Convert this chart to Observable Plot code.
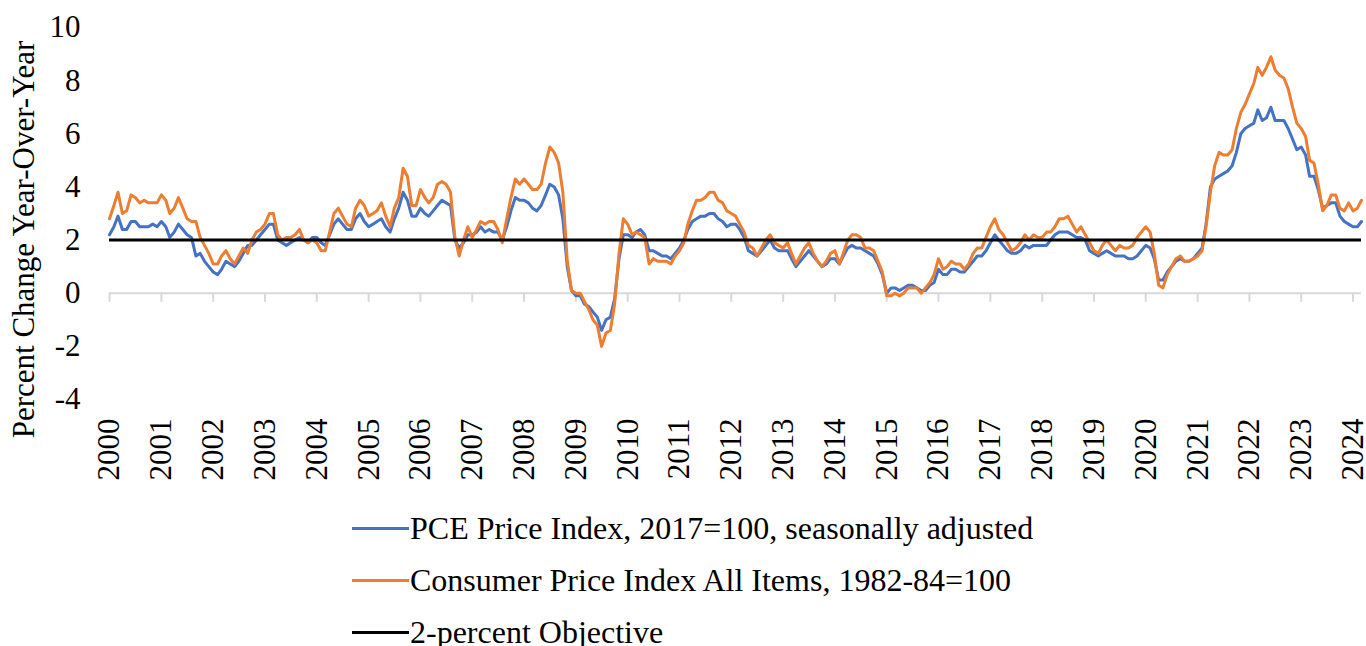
<!DOCTYPE html>
<html>
<head>
<meta charset="utf-8">
<script src="https://cdn.jsdelivr.net/npm/d3@7"></script>
<script src="https://cdn.jsdelivr.net/npm/@observablehq/plot@0.6"></script>
<style>
  body { margin: 0; background: #fff; font-family: "Liberation Serif", "Times New Roman", serif; }
  #chart { width: 1366px; }
  .legend { padding-left: 352px; margin-top: 12px; }
  .row { display: flex; align-items: center; height: 52px; font-size: 32px; color: #000; white-space: nowrap; }
  .swatch { width: 57px; height: 3px; margin-right: 1px; }
</style>
</head>
<body>
<div id="chart"></div>
<script>
// Monthly data, January 2000 through March 2024 (year-over-year % change)
const startYear = 2000;
const yearLabels = [2000, 2001, 2002, 2003, 2004, 2005, 2006, 2007, 2008, 2009, 2010, 2011,
                    2012, 2013, 2014, 2015, 2016, 2017, 2018, 2019, 2020, 2021, 2022, 2023, 2024];
const yTicks = [-4, -2, 0, 2, 4, 6, 8, 10];
const objective = 2;

const seriesNames = [
  "PCE Price Index, 2017=100, seasonally adjusted",
  "Consumer Price Index All Items, 1982-84=100",
  "2-percent Objective"
];
const seriesColors = ["#4472C4", "#ED7D31", "#000000"];

const pce = [
  2.2, 2.5, 2.9, 2.4, 2.4, 2.7, 2.7, 2.5, 2.5, 2.5, 2.6, 2.5,   // 2000
  2.7, 2.5, 2.1, 2.3, 2.6, 2.4, 2.2, 2.1, 1.4, 1.5, 1.2, 1.0,   // 2001
  0.8, 0.7, 0.9, 1.2, 1.1, 1.0, 1.2, 1.5, 1.8, 1.8, 2.0, 2.2,   // 2002
  2.4, 2.6, 2.6, 2.0, 1.9, 1.8, 1.9, 2.0, 2.1, 2.0, 1.9, 2.1,   // 2003
  2.1, 1.9, 1.8, 2.2, 2.6, 2.8, 2.6, 2.4, 2.4, 2.8, 3.0, 2.7,   // 2004
  2.5, 2.6, 2.7, 2.8, 2.5, 2.3, 2.8, 3.2, 3.8, 3.5, 2.9, 2.9,   // 2005
  3.2, 3.0, 2.9, 3.1, 3.3, 3.5, 3.4, 3.3, 2.0, 1.7, 1.9, 2.2,   // 2006
  2.2, 2.3, 2.5, 2.3, 2.4, 2.3, 2.3, 2.0, 2.5, 3.1, 3.6, 3.5,   // 2007
  3.5, 3.4, 3.2, 3.1, 3.3, 3.7, 4.1, 4.0, 3.7, 2.8, 1.0, 0.1,   // 2008
  -0.1, -0.1, -0.4, -0.5, -0.7, -0.9, -1.4, -1.0, -0.9, -0.2, 1.3, 2.2, // 2009
  2.2, 2.1, 2.3, 2.4, 2.2, 1.6, 1.6, 1.5, 1.4, 1.4, 1.3, 1.5,   // 2010
  1.7, 2.0, 2.4, 2.7, 2.8, 2.9, 2.9, 3.0, 3.0, 2.8, 2.7, 2.5,   // 2011
  2.6, 2.6, 2.4, 2.1, 1.6, 1.5, 1.4, 1.6, 1.8, 2.0, 1.7, 1.6,   // 2012
  1.6, 1.6, 1.3, 1.0, 1.2, 1.4, 1.6, 1.4, 1.2, 1.0, 1.1, 1.3,   // 2013
  1.3, 1.1, 1.4, 1.7, 1.8, 1.7, 1.7, 1.6, 1.5, 1.4, 1.1, 0.7,   // 2014
  0.0, 0.2, 0.2, 0.1, 0.2, 0.3, 0.3, 0.2, 0.1, 0.1, 0.3, 0.4,   // 2015
  0.9, 0.7, 0.7, 0.9, 0.9, 0.8, 0.8, 1.0, 1.2, 1.4, 1.4, 1.6,   // 2016
  1.9, 2.2, 2.0, 1.8, 1.6, 1.5, 1.5, 1.6, 1.8, 1.7, 1.8, 1.8,   // 2017
  1.8, 1.8, 2.0, 2.2, 2.3, 2.3, 2.3, 2.2, 2.1, 2.1, 2.0, 1.6,   // 2018
  1.5, 1.4, 1.5, 1.6, 1.5, 1.4, 1.4, 1.4, 1.3, 1.3, 1.4, 1.6,   // 2019
  1.8, 1.7, 1.3, 0.5, 0.5, 0.8, 1.0, 1.2, 1.3, 1.2, 1.2, 1.3,   // 2020
  1.5, 1.7, 2.6, 4.0, 4.3, 4.4, 4.5, 4.6, 4.8, 5.3, 6.0, 6.2,   // 2021
  6.3, 6.4, 6.9, 6.5, 6.6, 7.0, 6.5, 6.5, 6.5, 6.2, 5.8, 5.4,   // 2022
  5.5, 5.2, 4.4, 4.4, 3.9, 3.2, 3.3, 3.4, 3.4, 2.9, 2.7, 2.6,   // 2023
  2.5, 2.5, 2.7                                                 // 2024
];

const cpi = [
  2.8, 3.3, 3.8, 3.0, 3.1, 3.7, 3.6, 3.4, 3.5, 3.4, 3.4, 3.4,   // 2000
  3.7, 3.5, 3.0, 3.2, 3.6, 3.2, 2.8, 2.7, 2.7, 2.1, 1.8, 1.5,   // 2001
  1.1, 1.1, 1.4, 1.6, 1.3, 1.1, 1.4, 1.7, 1.5, 2.0, 2.3, 2.4,   // 2002
  2.6, 3.0, 3.0, 2.2, 2.0, 2.1, 2.1, 2.2, 2.4, 2.0, 1.9, 2.0,   // 2003
  1.9, 1.6, 1.6, 2.3, 3.0, 3.2, 2.9, 2.6, 2.5, 3.2, 3.5, 3.3,   // 2004
  2.9, 3.0, 3.1, 3.4, 2.9, 2.5, 3.2, 3.6, 4.7, 4.4, 3.3, 3.3,   // 2005
  3.9, 3.6, 3.4, 3.6, 4.1, 4.2, 4.1, 3.8, 2.1, 1.4, 2.0, 2.5,   // 2006
  2.1, 2.4, 2.7, 2.6, 2.7, 2.7, 2.4, 1.9, 2.8, 3.6, 4.3, 4.1,   // 2007
  4.3, 4.1, 3.9, 3.9, 4.1, 4.9, 5.5, 5.3, 4.9, 3.8, 1.2, 0.1,   // 2008
  0.0, 0.0, -0.3, -0.6, -1.0, -1.2, -2.0, -1.5, -1.4, -0.4, 1.5, 2.8, // 2009
  2.6, 2.2, 2.3, 2.2, 2.1, 1.1, 1.3, 1.2, 1.2, 1.2, 1.1, 1.4,   // 2010
  1.6, 1.9, 2.6, 3.1, 3.5, 3.5, 3.6, 3.8, 3.8, 3.5, 3.4, 3.1,   // 2011
  3.0, 2.9, 2.6, 2.3, 1.8, 1.7, 1.4, 1.7, 2.0, 2.2, 1.9, 1.8,   // 2012
  1.7, 1.9, 1.5, 1.1, 1.4, 1.7, 1.9, 1.5, 1.2, 1.0, 1.2, 1.5,   // 2013
  1.6, 1.1, 1.5, 2.0, 2.2, 2.2, 2.1, 1.7, 1.7, 1.6, 1.2, 0.8,   // 2014
  -0.1, -0.1, 0.0, -0.1, 0.0, 0.2, 0.2, 0.2, 0.0, 0.2, 0.4, 0.7, // 2015
  1.3, 0.9, 1.0, 1.2, 1.1, 1.1, 0.9, 1.1, 1.5, 1.7, 1.7, 2.1,   // 2016
  2.5, 2.8, 2.4, 2.2, 1.9, 1.6, 1.7, 1.9, 2.2, 2.0, 2.2, 2.1,   // 2017
  2.1, 2.3, 2.3, 2.5, 2.8, 2.8, 2.9, 2.6, 2.3, 2.5, 2.2, 1.9,   // 2018
  1.6, 1.5, 1.8, 2.0, 1.8, 1.6, 1.8, 1.7, 1.7, 1.8, 2.1, 2.3,   // 2019
  2.5, 2.3, 1.5, 0.3, 0.2, 0.7, 1.0, 1.3, 1.4, 1.2, 1.2, 1.3,   // 2020
  1.4, 1.6, 2.5, 3.8, 4.8, 5.3, 5.2, 5.2, 5.4, 6.2, 6.8, 7.1,   // 2021
  7.5, 7.9, 8.5, 8.2, 8.5, 8.9, 8.4, 8.2, 8.1, 7.7, 7.0, 6.4,   // 2022
  6.2, 5.9, 5.0, 4.9, 4.1, 3.1, 3.3, 3.7, 3.7, 3.2, 3.1, 3.4,   // 2023
  3.1, 3.2, 3.5                                                 // 2024
];

const monthDate = i => new Date(Date.UTC(startYear, i, 1));
const pceRows = pce.map((v, i) => ({ date: monthDate(i), value: v }));
const cpiRows = cpi.map((v, i) => ({ date: monthDate(i), value: v }));
const tickDates = yearLabels.map(y => new Date(Date.UTC(y, 0, 1)));

const chart = Plot.plot({
  width: 1366,
  height: 490,
  marginLeft: 109,
  marginRight: 5,
  marginTop: 27,
  marginBottom: 91,
  style: { fontFamily: "'Liberation Serif', 'Times New Roman', serif", fontSize: "31px", background: "#fff", color: "#000", overflow: "visible" },
  x: { type: "utc", domain: [monthDate(0), monthDate(pce.length - 1)], label: null },
  y: { domain: [-4, 10], label: null },
  marks: [
    Plot.ruleY([0], { stroke: "#d9d9d9", strokeWidth: 2 }),
    Plot.ruleX(tickDates, { x: d => d, y1: 0, y2: -0.34, stroke: "#d9d9d9", strokeWidth: 2 }),
    Plot.lineY(pceRows, { x: "date", y: "value", stroke: seriesColors[0], strokeWidth: 3, strokeLinejoin: "round", strokeLinecap: "round" }),
    Plot.lineY(cpiRows, { x: "date", y: "value", stroke: seriesColors[1], strokeWidth: 3, strokeLinejoin: "round", strokeLinecap: "round" }),
    Plot.ruleY([objective], { stroke: seriesColors[2], strokeWidth: 3 }),
    Plot.axisY({ ticks: yTicks, tickFormat: d => String(d), tickSize: 0, tickPadding: 29, fontSize: 31, label: null }),
    Plot.axisX({ ticks: tickDates, tickFormat: d3.utcFormat("%Y"), tickRotate: -90, tickSize: 0, tickPadding: 19, fontSize: 31, label: null }),
    Plot.text(["Percent Change Year-Over-Year"], { frameAnchor: "left", textAnchor: "middle", rotate: -90, dx: -85, dy: 26, fontSize: 31, fill: "#000" })
  ]
});
document.getElementById("chart").appendChild(chart);

const legend = document.createElement("div");
legend.className = "legend";
seriesNames.forEach((name, i) => {
  const row = document.createElement("div");
  row.className = "row";
  const sw = document.createElement("span");
  sw.className = "swatch";
  sw.style.background = seriesColors[i];
  const label = document.createElement("span");
  label.textContent = name;
  row.appendChild(sw);
  row.appendChild(label);
  legend.appendChild(row);
});
document.getElementById("chart").appendChild(legend);
</script>
</body>
</html>
